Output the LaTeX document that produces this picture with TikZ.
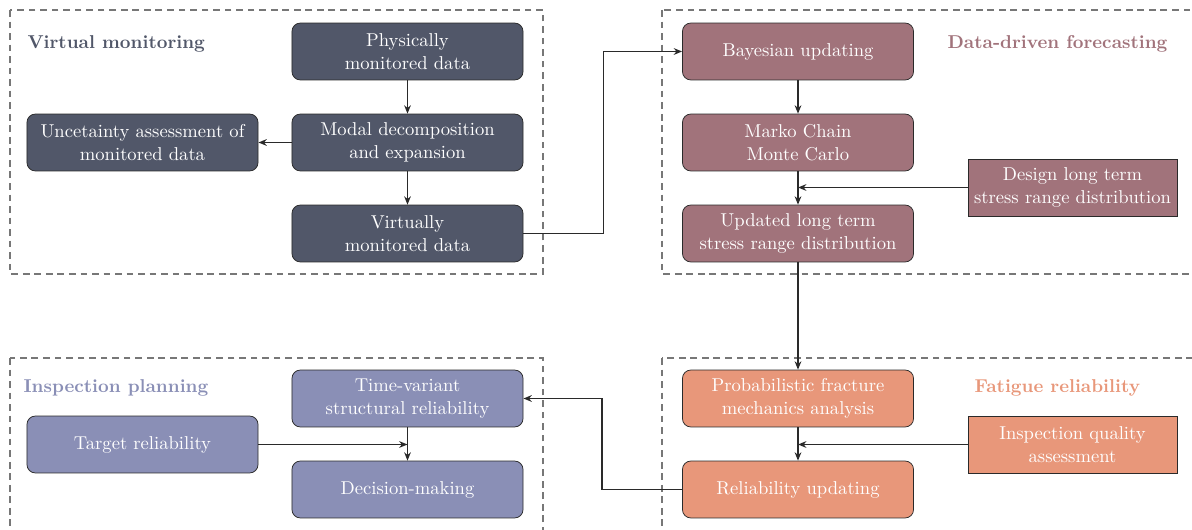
\documentclass[tikz,border=0pt]{standalone}
\usepackage{xcolor}
\usepackage{tikz}
\usetikzlibrary{arrows.meta,positioning,calc}
\definecolor{VM}{HTML}{515769}
\definecolor{DF}{HTML}{A1737B}
\definecolor{IP}{HTML}{8A8FB6}
\definecolor{FR}{HTML}{E8977A}
\definecolor{Edge}{HTML}{2A2A2A}
\definecolor{Frame}{HTML}{777777}

\begin{document}
\begin{tikzpicture}[x=0.5375pt,y=-0.5375pt,
  box/.style={draw=Edge,rounded corners=4.5pt,minimum width=124.2pt,minimum height=30.6pt,
    align=center,text=white,inner sep=1pt},
  inbox/.style={draw=Edge,minimum width=112.3pt,minimum height=30.6pt,
    align=center,text=white,inner sep=1pt},
  group/.style={Frame,dash pattern=on 3.6pt off 2.6pt,line width=0.6pt},
  title/.style={anchor=west,font=\bfseries},
  link/.style={Edge,line width=0.8pt,-{Stealth[length=4.5pt,width=3.6pt]}}]
\clip (0,0) rectangle (1192,530);
% groups
\draw[group] (10,10) rectangle (543,274);
\draw[group] (662,10) rectangle (1210,274);
\draw[group] (10,358) rectangle (543,560);
\draw[group] (662,358) rectangle (1210,560);
\node[title,VM] (tvm) at (21,44) {Virtual monitoring};
\node[title,DF] (tdf) at (941,44) {Data-driven forecasting};
\node[title,IP] (tip) at (17,388) {Inspection planning};
\node[title,FR] (tfr) at (968,388) {Fatigue reliability};

% virtual monitoring
\node[box,fill=VM] (phys) at (407.5,51.5) {Physically\\monitored data};
\node[box,fill=VM] (modal) at (407.5,142.5) {Modal decomposition\\and expansion};
\node[box,fill=VM] (virt) at (407.5,233.5) {Virtually\\monitored data};
\node[box,fill=VM] (unc) at (142.5,142.5) {Uncetainty assessment of\\monitored data};

% forecasting
\node[box,fill=DF] (bayes) at (798,51.5) {Bayesian updating};
\node[box,fill=DF] (mcmc) at (798,142.5) {Marko Chain\\Monte Carlo};
\node[box,fill=DF] (upd) at (798,233.5) {Updated long term\\stress range distribution};
\node[inbox,fill=DF] (design) at (1072.5,187.5) {Design long term\\stress range distribution};

% fatigue reliability
\node[box,fill=FR] (pfm) at (798,398.5) {Probabilistic fracture\\mechanics analysis};
\node[box,fill=FR] (relupd) at (798,489.5) {Reliability updating};
\node[inbox,fill=FR] (iqa) at (1072.5,444.5) {Inspection quality\\assessment};

% inspection planning
\node[box,fill=IP] (tvsr) at (407.5,398.5) {Time-variant\\structural reliability};
\node[box,fill=IP] (dec) at (407.5,489.5) {Decision-making};
\node[box,fill=IP] (target) at (142.5,444.5) {Target reliability};

% connectors
\draw[link] (phys) -- (modal);
\draw[link] (modal) -- (unc);
\draw[link] (modal) -- (virt);
\draw[link] (virt.east) -- ++(80,0) |- (bayes.west);
\draw[link] (bayes) -- (mcmc);
\draw[link] (mcmc) -- (upd);
\draw[link] (design.west) -- (design.west -| upd);
\draw[link] (upd) -- (pfm);
\draw[link] (pfm) -- (relupd);
\draw[link] (iqa.west) -- (iqa.west -| relupd);
\draw[link] (relupd.west) -- ++(-80,0) |- (tvsr.east);
\draw[link] (tvsr) -- (dec);
\draw[link] (target.east) -- (target.east -| dec);
\end{tikzpicture}
\end{document}
